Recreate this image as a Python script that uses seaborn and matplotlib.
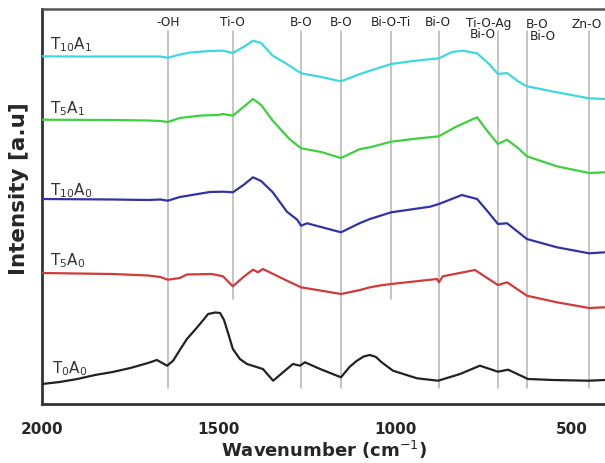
import numpy as np
import pandas as pd
import matplotlib
matplotlib.use("Agg")
import matplotlib.pyplot as plt
import seaborn as sns

# ---------------- data ----------------
series_names = ["T0A0", "T5A0", "T10A0", "T5A1", "T10A1"]
series_labels = [r"T$_0$A$_0$", r"T$_5$A$_0$", r"T$_{10}$A$_0$", r"T$_5$A$_1$", r"T$_{10}$A$_1$"]
series_colors = ["#222222", "#d03a3a", "#3232a8", "#3fcf3f", "#3fd8dc"]

wn_T0A0 = [2000, 1950, 1900, 1850, 1800, 1750, 1700, 1675, 1646, 1629, 1610, 1590, 1570, 1553, 1530, 1510, 1496,
           1485, 1477, 1460, 1440, 1420, 1375, 1346, 1318, 1290, 1270, 1256, 1213, 1154, 1130, 1110, 1090, 1072,
           1055, 1040, 1007, 939, 879, 817, 761, 710, 681, 625, 554, 455, 407]
int_T0A0 = [20, 22, 25, 29, 32, 36, 41, 44, 38.3, 43.3, 54, 65, 73, 80, 90, 91.5, 91,
            84, 75, 55, 45, 40, 35, 23.3, 31.7, 40, 38.3, 41.7, 35, 26.7, 37, 43, 47.5, 49,
            47, 42, 33.3, 25.7, 23.3, 30, 38.3, 32.3, 34.3, 25, 24, 23.3, 24]

wn_T5A0 = [2000, 1800, 1700, 1665, 1644, 1610, 1590, 1520, 1488, 1460, 1430, 1403, 1389, 1375, 1340,
           1307, 1267, 1154, 1100, 1072, 1044, 1012, 882, 877, 866, 775, 710, 684, 628, 543, 452, 407]
int_T5A0 = [131, 130, 128.5, 127, 124.3, 126, 129.5, 130, 127.7, 117.7, 127, 134.3, 131.7, 135, 129,
            123.3, 116.7, 110, 114, 116.7, 118.5, 120, 125, 121.7, 127.7, 134, 119, 121.7, 108.3, 101.7, 96, 96.7]

wn_T10A0 = [2000, 1800, 1700, 1665, 1644, 1610, 1525, 1488, 1460, 1430, 1403, 1380, 1347, 1307, 1278,
            1267, 1250, 1154, 1100, 1072, 1012, 902, 877, 812, 769, 740, 710, 684, 628, 543, 452, 407]
int_T10A0 = [205, 204.5, 204, 204.5, 203.3, 207, 212, 212.3, 211.7, 219, 226.7, 223, 211.7, 192.3, 184.3,
             178.3, 180.7, 171.7, 181, 185, 191.7, 197.3, 200, 209, 205, 193, 180, 180.7, 165, 156.7, 150.7, 151.7]

wn_T5A1 = [2000, 1800, 1700, 1665, 1644, 1610, 1550, 1500, 1488, 1460, 1430, 1403, 1380, 1347, 1300,
           1267, 1210, 1154, 1100, 1072, 1012, 950, 877, 830, 769, 740, 710, 684, 650, 628, 543, 452, 407]
int_T5A1 = [284.3, 284, 283.5, 283, 282, 286, 288.5, 289, 290, 288.3, 297, 305, 299, 283.3, 265,
            255.7, 252, 246, 255, 256.7, 262.3, 265, 267.7, 277, 286.7, 273, 260, 264.3, 255, 247.7, 237.7, 231, 231.7]

wn_T10A1 = [2000, 1900, 1800, 1700, 1665, 1644, 1610, 1580, 1525, 1488, 1460, 1430, 1403, 1380, 1347,
            1307, 1267, 1210, 1154, 1100, 1072, 1012, 950, 877, 840, 809, 769, 735, 710, 684, 650, 628,
            543, 452, 407]
int_T10A1 = [347.7, 347.5, 347.5, 347.5, 347.5, 346.2, 349.5, 351.5, 353, 353.3, 351, 357, 363.3, 361, 348.3,
             340, 330.7, 327, 322.7, 330, 333.3, 340, 343, 345.7, 352, 353.3, 350.7, 340, 330, 331, 322, 317.7,
             311.7, 305.7, 305]

# peak assignment lines
band_positions = [1644, 1459, 1267, 1154, 1012, 877, 710, 628, 452]
band_short = [False, True, False, False, True, False, False, False, False]
band_texts = ["-OH", "Ti-O", "B-O", "B-O", "Bi-O-Ti", "Bi-O", "Ti-O-Ag", "Bi-O", "B-O", "Bi-O", "Zn-O"]
band_text_wn = [1644, 1462, 1267, 1154, 1012, 880, 735, 752, 599, 582, 458]
band_text_y = [382, 382, 382, 382, 382, 382, 382, 370, 380, 368, 381]

xticks_major = [2000, 1500, 1000, 500]
xticks_minor = [1750, 1250, 750]

# ---------------- build table ----------------
all_wn = [wn_T0A0, wn_T5A0, wn_T10A0, wn_T5A1, wn_T10A1]
all_int = [int_T0A0, int_T5A0, int_T10A0, int_T5A1, int_T10A1]
frames = []
for name, w, v in zip(series_names, all_wn, all_int):
    frames.append(pd.DataFrame({"wavenumber": w, "intensity": v, "sample": name}))
df = pd.concat(frames, ignore_index=True)

# ---------------- figure ----------------
sns.set_style("white")
plt.rcParams["font.family"] = ["DejaVu Sans"]

fig = plt.figure(figsize=(6.05, 4.64), dpi=100)
ax = fig.add_axes([42 / 605, 59 / 464, 1 - 42 / 605, 395 / 464])

# assignment lines
for wpos, short in zip(band_positions, band_short):
    ax.plot([wpos, wpos], [105 if short else 16, 373], color="#b4b4b4", lw=1.1, zorder=1)

sns.lineplot(data=df, x="wavenumber", y="intensity", hue="sample",
             hue_order=series_names, palette=dict(zip(series_names, series_colors)),
             sort=False, estimator=None, lw=1.6, legend=False, ax=ax, zorder=3)

for txt, w, y in zip(band_texts, band_text_wn, band_text_y):
    ax.text(w, y, txt, ha="center", va="center", fontsize=8.7, color="#222222")

label_y = [32, 140, 210, 292, 356]
label_x = [1972, 1977, 1977, 1977, 1977]
for lab, x, y in zip(series_labels, label_x, label_y):
    ax.text(x, y, lab, ha="left", va="baseline", fontsize=11, color="#333333")

ax.set_xlim(2000, 407)
ax.set_ylim(0, 395)
ax.set_xticks(xticks_major)
ax.set_xticks(xticks_minor, minor=True)
ax.set_xticklabels([str(t) for t in xticks_major], fontweight="bold", fontsize=11)
ax.set_yticks([])
ax.tick_params(axis="x", which="major", direction="out", length=6, width=1.6, color="#333333", pad=6)
ax.tick_params(axis="x", which="minor", direction="out", length=4, width=1.4, color="#333333")
ax.set_xlabel("Wavenumber (cm$^{-1}$)", fontweight="bold", fontsize=13)
ax.set_ylabel("Intensity [a.u]", fontweight="bold", fontsize=15.5)
ax.xaxis.set_label_coords(282 / 563, -34 / 395)
ax.yaxis.set_label_coords(-13 / 563, 0.547)

for side in ["left", "bottom"]:
    ax.spines[side].set_visible(True)
    ax.spines[side].set_color("#333333")
    ax.spines[side].set_linewidth(2)
ax.spines["top"].set_color("#555555")
ax.spines["top"].set_linewidth(1.8)
ax.spines["right"].set_visible(False)

fig.savefig("out.png", dpi=100)
